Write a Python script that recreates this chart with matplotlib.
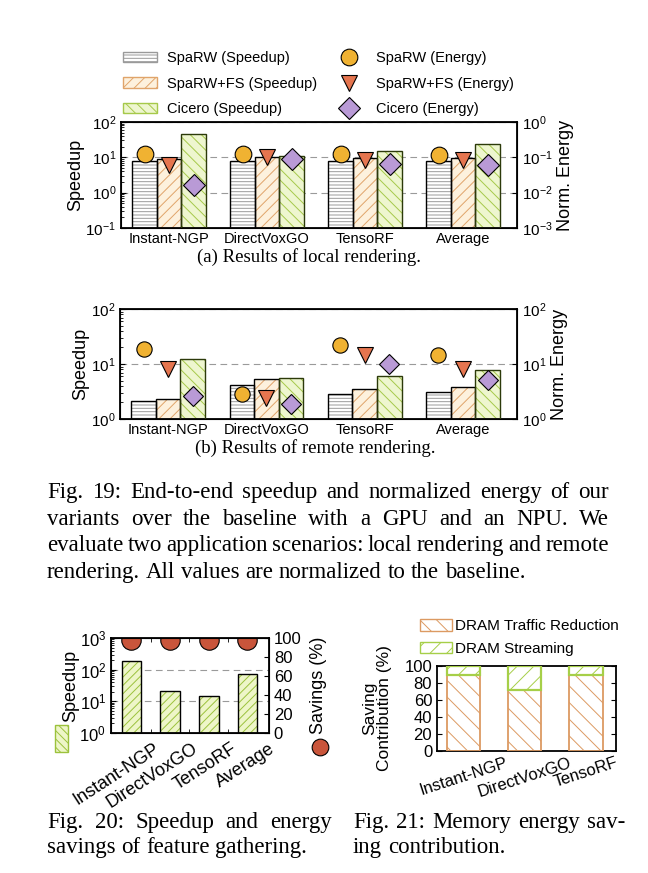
import matplotlib
matplotlib.use('Agg')
import matplotlib.pyplot as plt
import numpy as np
from matplotlib.patches import Patch, Rectangle
from matplotlib.lines import Line2D

plt.rcParams['font.family'] = ['Liberation Sans', 'DejaVu Sans']
plt.rcParams['mathtext.fontset'] = 'custom'
plt.rcParams['mathtext.rm'] = 'Liberation Sans'
plt.rcParams['mathtext.it'] = 'Liberation Sans:italic'
plt.rcParams['mathtext.bf'] = 'Liberation Sans:bold'
plt.rcParams['hatch.linewidth'] = 0.7

# ---- data ----
models = ['Instant-NGP', 'DirectVoxGO', 'TensoRF', 'Average']

# Fig 19 (a) local rendering
local_speedup_sparw = [8.0, 8.0, 8.0, 8.0]
local_speedup_fs = [9.0, 10.5, 9.5, 9.5]
local_speedup_cicero = [46, 11, 15.5, 24]
local_energy_sparw = [0.125, 0.125, 0.125, 0.12]
local_energy_fs = [0.06, 0.1, 0.085, 0.082]
local_energy_cicero = [0.017, 0.092, 0.064, 0.06]

# Fig 19 (b) remote rendering
remote_speedup_sparw = [2.15, 4.2, 2.9, 3.1]
remote_speedup_fs = [2.3, 5.4, 3.5, 3.75]
remote_speedup_cicero = [12.5, 5.6, 6.0, 7.9]
remote_energy_sparw = [19, 2.8, 22, 14.8]
remote_energy_fs = [8.2, 2.4, 14.5, 8.2]
remote_energy_cicero = [2.65, 1.9, 10.2, 5.2]

# Fig 20 feature gathering
gather_speedup = [182, 21, 14.7, 72]
gather_savings = [97.5, 97.5, 97.5, 97.5]

# Fig 21 memory energy saving contribution
mem_models = ['Instant-NGP', 'DirectVoxGO', 'TensoRF']
dram_traffic = [89, 72, 89]
dram_streaming = [11, 28, 11]

W, H = 648, 873
fig = plt.figure(figsize=(W / 100, H / 100), dpi=100)

SPARW = dict(face='white', hatch='-----', hc='#9a9a9a')
FS = dict(face='#fdf1dd', hatch='///', hc='#e0a46a')
CIC = dict(face='#eef6cf', hatch='\\\\\\', hc='#a6c94a')
C_CIRCLE, C_TRI, C_DIAM = '#f0b232', '#e5754f', '#b99ad6'
SERIF = 'Liberation Serif'


def px_axes(x0, y0, x1, y1):
    return fig.add_axes([x0 / W, 1 - y1 / H, (x1 - x0) / W, (y1 - y0) / H])


def hatched_bars(ax, x, h, width, face, hatch, hc, edge='black', lw=1.0, bottom=None):
    ax.bar(x, h, width, bottom=bottom, color=face, edgecolor=hc, hatch=hatch,
           linewidth=0, zorder=2)
    ax.bar(x, h, width, bottom=bottom, fill=False, edgecolor=edge, linewidth=lw, zorder=3)


def rendering_panel(box, ylim_l, ylim_r, sp, en, ms):
    ax = px_axes(*box)
    ax.set_yscale('log')
    x = np.arange(len(models))
    w = 0.25
    hatched_bars(ax, x - w, sp[0], w, SPARW['face'], SPARW['hatch'], SPARW['hc'])
    hatched_bars(ax, x, sp[1], w, FS['face'], FS['hatch'], FS['hc'])
    hatched_bars(ax, x + w, sp[2], w, CIC['face'], CIC['hatch'], CIC['hc'], edge='#2c3a0a')
    ax.set_ylim(*ylim_l)
    ax.set_xlim(-0.49, 3.55)
    ax.yaxis.grid(True, which='major', ls=(0, (6, 4)), color='#9a9a9a', lw=0.8)
    ax.set_axisbelow(True)
    ax.set_xticks(x)
    ax.set_xticklabels(models, fontsize=10.5)
    ax.tick_params(axis='x', length=0, pad=3)
    ax.tick_params(axis='y', which='both', direction='in', labelsize=11)
    ax.set_ylabel('Speedup', fontsize=13, labelpad=1)
    for s in ax.spines.values():
        s.set_linewidth(1.3)

    ax2 = ax.twinx()
    ax2.set_yscale('log')
    ax2.set_ylim(*ylim_r)
    ax2.plot(x - w, en[0], 'o', ms=ms, mfc=C_CIRCLE, mec='black', mew=0.8, zorder=5)
    ax2.plot(x, en[1], 'v', ms=ms, mfc=C_TRI, mec='black', mew=0.8, zorder=5)
    ax2.plot(x + w, en[2], 'D', ms=ms * 0.95, mfc=C_DIAM, mec='black', mew=0.8, zorder=5)
    ax2.tick_params(axis='y', which='major', direction='in', labelsize=11)
    ax2.tick_params(axis='y', which='minor', length=0)
    ax2.set_ylabel('Norm. Energy', fontsize=13, labelpad=3)
    return ax, ax2


# ---- Fig 19 (a) ----
rendering_panel((121, 122, 517, 228), (0.1, 100), (1e-3, 1),
                (local_speedup_sparw, local_speedup_fs, local_speedup_cicero),
                (local_energy_sparw, local_energy_fs, local_energy_cicero), 12)

handles = [
    Patch(facecolor=SPARW['face'], edgecolor=SPARW['hc'], hatch=SPARW['hatch']),
    Patch(facecolor=FS['face'], edgecolor=FS['hc'], hatch=FS['hatch']),
    Patch(facecolor=CIC['face'], edgecolor=CIC['hc'], hatch=CIC['hatch']),
    Line2D([0], [0], marker='o', ls='', ms=12, mfc=C_CIRCLE, mec='black', mew=0.8),
    Line2D([0], [0], marker='v', ls='', ms=12, mfc=C_TRI, mec='black', mew=0.8),
    Line2D([0], [0], marker='D', ls='', ms=11, mfc=C_DIAM, mec='black', mew=0.8),
]
labels = ['SpaRW (Speedup)', 'SpaRW+FS (Speedup)', 'Cicero (Speedup)',
          'SpaRW (Energy)', 'SpaRW+FS (Energy)', 'Cicero (Energy)']
fig.legend(handles, labels, ncol=2, loc='upper left', bbox_to_anchor=(123 / W, 1 - 51 / H),
           frameon=False, fontsize=10.5, borderpad=0, borderaxespad=0, handlelength=2.35,
           handletextpad=0.7, columnspacing=0.95, labelspacing=0.8)

fig.text(309 / W, 1 - 262 / H, '(a) Results of local rendering.', ha='center', va='baseline',
         family=SERIF, fontsize=13.5)

# ---- Fig 19 (b) ----
rendering_panel((120, 309, 517, 419), (1, 100), (1, 100),
                (remote_speedup_sparw, remote_speedup_fs, remote_speedup_cicero),
                (remote_energy_sparw, remote_energy_fs, remote_energy_cicero), 11)

fig.text(315 / W, 1 - 453 / H, '(b) Results of remote rendering.', ha='center', va='baseline',
         family=SERIF, fontsize=13.5)


# ---- captions ----
def caption_line(text, x0, x1, y, size, justify=True):
    r = fig.canvas.get_renderer()
    words = text.split()
    arts = [fig.text(0, 1 - y / H, wd, fontsize=size, family=SERIF,
                     va='baseline') for wd in words]
    widths = [a.get_window_extent(r).width for a in arts]
    if justify and len(words) > 1:
        gap = (x1 - x0 - sum(widths)) / (len(words) - 1)
    else:
        gap = size * 0.25 * 100 / 72
    x = x0
    for a, wd in zip(arts, widths):
        a.set_x(x / W)
        x += wd + gap


CAP = 16.5
cap19 = ['Fig. 19: End-to-end speedup and normalized energy of our',
         'variants over the baseline with a GPU and an NPU. We',
         'evaluate two application scenarios: local rendering and remote',
         'rendering. All values are normalized to the baseline.']
for i, line in enumerate(cap19):
    caption_line(line, 47, 609, 498 + i * 26.7, CAP, justify=(i < 3))

caption_line('Fig. 20: Speedup and energy', 47, 332, 828, CAP)
caption_line('savings of feature gathering.', 47, 332, 853, CAP, justify=False)
caption_line('Fig. 21: Memory energy sav-', 353, 625, 828, CAP)
caption_line('ing contribution.', 353, 625, 853, CAP, justify=False)

# ---- Fig 20 ----
ax = px_axes(111, 638, 269, 733)
ax.set_yscale('log')
xg = np.arange(len(models))
hatched_bars(ax, xg, gather_speedup, 0.51, '#eef6c8', '////', '#9cc23c')
ax.set_ylim(1, 1000)
ax.set_xlim(-0.53, 3.51)
ax.yaxis.grid(True, which='major', ls=(0, (6, 4)), color='#9a9a9a', lw=0.8)
ax.set_axisbelow(True)
# labels sit a little right of each bar, as in the original
ax.set_xticks(xg + 0.56)
ax.set_xticklabels(models, fontsize=13, rotation=33, ha='right', rotation_mode='anchor')
ax.set_xticks([0.5, 1.5, 2.5], minor=True)
ax.tick_params(axis='x', which='major', length=0, pad=5)
ax.tick_params(axis='x', which='minor', direction='in', top=True, length=3)
ax.tick_params(axis='y', which='both', direction='in', labelsize=12)
ax.set_ylabel('Speedup', fontsize=13, labelpad=0)
for s in ax.spines.values():
    s.set_linewidth(1.3)
ax2 = ax.twinx()
ax2.plot(xg, gather_savings, 'o', ms=14, mfc='#c9553b', mec='black', mew=0.8, clip_on=True)
ax2.set_ylim(0, 100)
ax2.set_yticks(range(0, 101, 20))
ax2.tick_params(axis='y', direction='in', labelsize=12)
ax2.set_ylabel('Savings (%)', fontsize=13, labelpad=6)
fig.add_artist(Rectangle((55 / W, 1 - 752 / H), 13 / W, 27 / H, transform=fig.transFigure,
                         facecolor='#eef6c8', edgecolor='#9cc23c', hatch='\\\\\\\\', lw=1))
fig.add_artist(Line2D([320 / W], [1 - 747 / H], transform=fig.transFigure, marker='o', ms=12,
                      mfc='#c9553b', mec='black', mew=0.8, ls=''))

# ---- Fig 21 ----
ax = px_axes(437, 666, 616, 751)
xm = np.arange(len(mem_models))
hatched_bars(ax, xm, dram_traffic, 0.54, 'white', '\\\\', '#dc9a62', edge='#dc9a62', lw=1.3)
hatched_bars(ax, xm, dram_streaming, 0.54, 'white', '//', '#a6cf48', edge='#a6cf48', lw=1.6,
             bottom=dram_traffic)
ax.set_ylim(0, 100)
ax.set_xlim(-0.43, 2.49)
ax.set_yticks(range(0, 101, 20))
ax.tick_params(axis='y', direction='in', right=True, labelsize=12)
ax.set_xticks(xm)
ax.set_xticklabels(mem_models, fontsize=12, rotation=18)
ax.tick_params(axis='x', length=0, pad=3)
ax.set_ylabel('Saving\nContribution (%)', fontsize=12.5, labelpad=9, linespacing=1.0)
for s in ax.spines.values():
    s.set_linewidth(1.3)
h21 = [Patch(facecolor='white', edgecolor='#dc9a62', hatch='\\\\'),
       Patch(facecolor='white', edgecolor='#a6cf48', hatch='//')]
fig.legend(h21, ['DRAM Traffic Reduction', 'DRAM Streaming'], loc='upper left',
           bbox_to_anchor=(420 / W, 1 - 619 / H), frameon=False, fontsize=11, borderpad=0,
           borderaxespad=0, handlelength=2.1, handleheight=0.8, handletextpad=0.2,
           labelspacing=0.55)

fig.savefig('out.png', dpi=100)
